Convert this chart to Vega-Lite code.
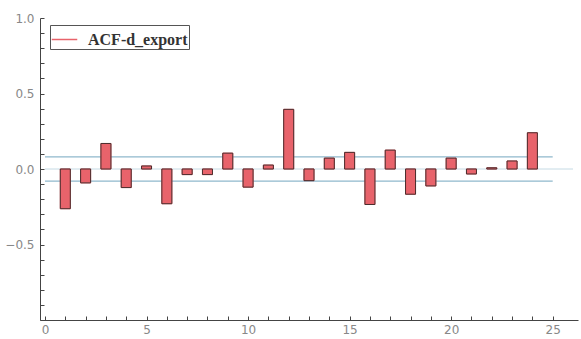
{
  "$schema": "https://vega.github.io/schema/vega-lite/v6.json",
  "width": 538,
  "height": 302,
  "autosize": {"type": "none"},
  "padding": {"left": 40, "top": 18, "right": 3, "bottom": 19},
  "background": "#ffffff",
  "config": {"view": {"stroke": null}},
  "datasets": {
    "acf": [
      {"lag": 1, "acf": -0.263, "series": "ACF-d_export"},
      {"lag": 2, "acf": -0.092, "series": "ACF-d_export"},
      {"lag": 3, "acf": 0.169, "series": "ACF-d_export"},
      {"lag": 4, "acf": -0.123, "series": "ACF-d_export"},
      {"lag": 5, "acf": 0.02, "series": "ACF-d_export"},
      {"lag": 6, "acf": -0.23, "series": "ACF-d_export"},
      {"lag": 7, "acf": -0.037, "series": "ACF-d_export"},
      {"lag": 8, "acf": -0.037, "series": "ACF-d_export"},
      {"lag": 9, "acf": 0.105, "series": "ACF-d_export"},
      {"lag": 10, "acf": -0.12, "series": "ACF-d_export"},
      {"lag": 11, "acf": 0.026, "series": "ACF-d_export"},
      {"lag": 12, "acf": 0.395, "series": "ACF-d_export"},
      {"lag": 13, "acf": -0.077, "series": "ACF-d_export"},
      {"lag": 14, "acf": 0.072, "series": "ACF-d_export"},
      {"lag": 15, "acf": 0.11, "series": "ACF-d_export"},
      {"lag": 16, "acf": -0.235, "series": "ACF-d_export"},
      {"lag": 17, "acf": 0.125, "series": "ACF-d_export"},
      {"lag": 18, "acf": -0.167, "series": "ACF-d_export"},
      {"lag": 19, "acf": -0.112, "series": "ACF-d_export"},
      {"lag": 20, "acf": 0.072, "series": "ACF-d_export"},
      {"lag": 21, "acf": -0.033, "series": "ACF-d_export"},
      {"lag": 22, "acf": 0.008, "series": "ACF-d_export"},
      {"lag": 23, "acf": 0.053, "series": "ACF-d_export"},
      {"lag": 24, "acf": 0.24, "series": "ACF-d_export"}
    ],
    "bands": [
      {"lag": 0, "lag_end": 25, "acf": 0.08},
      {"lag": 0, "lag_end": 25, "acf": -0.08}
    ],
    "zero": [
      {"lag": 0, "lag_end": 26, "acf": 0}
    ]
  },
  "encoding": {
    "x": {
      "field": "lag", "type": "quantitative",
      "scale": {"domain": [0, 26], "nice": false, "zero": false},
      "axis": {
        "values": [0,1,2,3,4,5,6,7,8,9,10,11,12,13,14,15,16,17,18,19,20,21,22,23,24,25],
        "labelExpr": "datum.value % 5 === 0 ? datum.label : ''",
        "labelOverlap": false,
        "title": null, "grid": false,
        "domainColor": "#444", "tickColor": "#444",
        "tickSize": -4,
        "labelColor": "#888", "labelFont": "DejaVu Sans", "labelFontSize": 12,
        "labelPadding": 8, "labelFlush": false
      }
    },
    "y": {
      "field": "acf", "type": "quantitative",
      "scale": {"domain": [-1, 1], "nice": false},
      "axis": {
        "values": [-1,-0.9,-0.8,-0.7,-0.6,-0.5,-0.4,-0.3,-0.2,-0.1,0,0.1,0.2,0.3,0.4,0.5,0.6,0.7,0.8,0.9,1],
        "labelExpr": "(abs(round(datum.value*10)) % 5 === 0 && datum.value > -0.9) ? format(datum.value, '.1f') : ''",
        "labelOverlap": false,
        "title": null, "grid": false,
        "domainColor": "#444", "tickColor": "#444",
        "tickSize": -4,
        "labelColor": "#888", "labelFont": "DejaVu Sans", "labelFontSize": 12,
        "labelPadding": 10, "labelFlush": false
      }
    }
  },
  "layer": [
    {
      "data": {"name": "zero"},
      "mark": {"type": "rule", "stroke": "#c5dae4", "strokeWidth": 1},
      "encoding": {
        "x2": {"field": "lag_end"}
      }
    },
    {
      "data": {"name": "bands"},
      "mark": {"type": "rule", "stroke": "#8fb8cc", "strokeWidth": 1.2},
      "encoding": {
        "x2": {"field": "lag_end"}
      }
    },
    {
      "data": {"name": "acf"},
      "mark": {"type": "bar", "size": 10, "orient": "vertical", "stroke": "#e8636b", "strokeWidth": 1},
      "encoding": {
        "y2": {"datum": 0},
        "color": {
          "field": "series", "type": "nominal",
          "scale": {"range": ["#e8636b"]},
          "legend": {
            "title": null,
            "orient": "none",
            "legendX": 10,
            "legendY": 7,
            "symbolType": "stroke",
            "symbolSize": 650,
            "symbolStrokeColor": "#e8636b",
            "symbolStrokeWidth": 1.5,
            "strokeColor": "#555",
            "padding": 1,
            "labelFont": "Liberation Serif",
            "labelFontSize": 16,
            "labelFontWeight": "bold",
            "labelColor": "#333",
            "labelOffset": 10,
            "encode": {
              "symbols": {
                "update": {
                  "stroke": {"value": "#e8636b"},
                  "strokeWidth": {"value": 1.5}
                }
              }
            }
          }
        }
      }
    },
    {
      "data": {"name": "acf"},
      "mark": {"type": "bar", "size": 10, "orient": "vertical", "fill": null, "fillOpacity": 0, "stroke": "#4a2e2e", "strokeWidth": 1},
      "encoding": {
        "y2": {"datum": 0}
      }
    }
  ]
}
